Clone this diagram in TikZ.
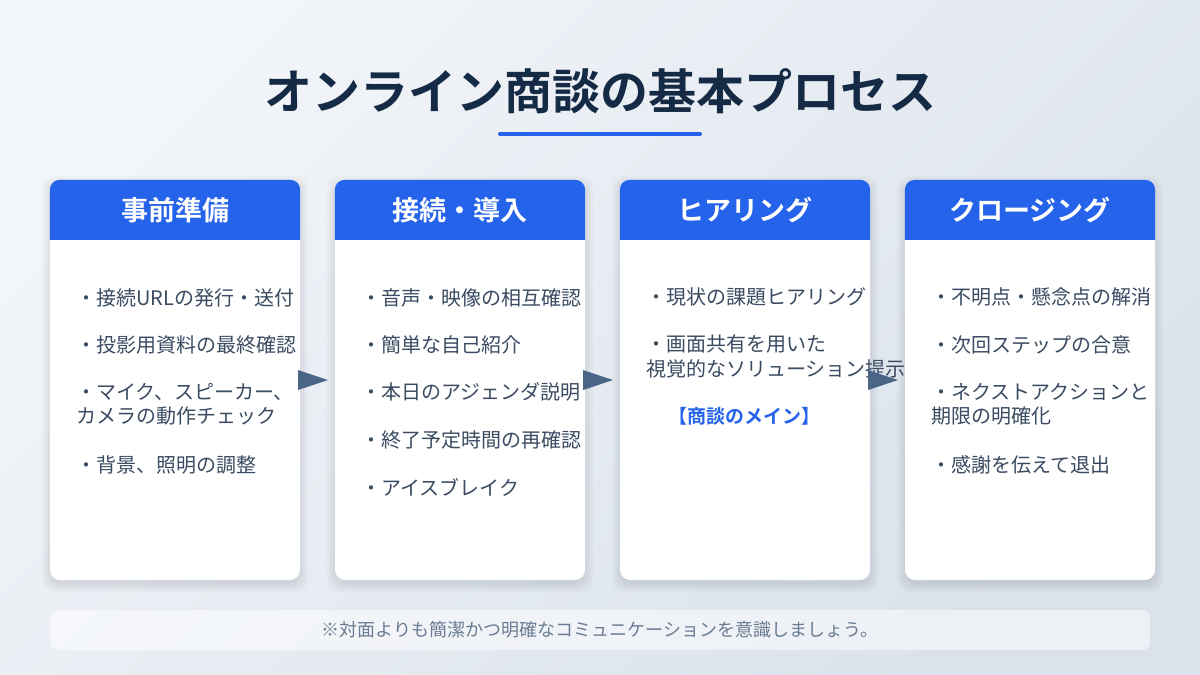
\documentclass[tikz,border=0pt]{standalone}
\usepackage{fontspec}
\setmainfont{Noto Sans CJK JP}[BoldFont=* Bold]
\usetikzlibrary{calc}
\definecolor{bgA}{HTML}{F2F5F9}
\definecolor{bgB}{HTML}{DBE2EB}
\definecolor{hdrblue}{HTML}{2563EB}
\definecolor{titlec}{HTML}{152A45}
\definecolor{bodyc}{HTML}{3A4B62}
\definecolor{arrowc}{HTML}{4A6686}
\definecolor{footc}{HTML}{6A7C93}
\tikzset{
  card/.style={fill=white, rounded corners=10pt, minimum width=250pt, minimum height=400pt, inner sep=0pt},
  hdrfill/.style={fill=hdrblue},
  hdrtext/.style={text=white, font=\fontsize{27}{32}\selectfont\bfseries, inner sep=0pt, anchor=center},
  body/.style={text=bodyc, font=\fontsize{20}{24}\selectfont, inner sep=0pt, anchor=base west},
  keytext/.style={text=hdrblue, font=\fontsize{19}{24}\selectfont\bfseries, inner sep=0pt, anchor=center},
  titletext/.style={text=titlec, font=\fontsize{48}{56}\selectfont\bfseries, inner sep=0pt, anchor=center},
  footbox/.style={fill=white, fill opacity=0.5, text opacity=1, rounded corners=8pt, minimum width=1100pt, minimum height=40pt, inner sep=0pt, text=footc, font=\fontsize{18}{21}\selectfont},
  shadowlayer/.style={fill=black, opacity=0.018, rounded corners=12pt}
}
\begin{document}
\begin{tikzpicture}[x=1pt,y=-1pt]
\useasboundingbox (0,0) rectangle (1200,675);
\shade[top color=bgA, bottom color=bgB, shading angle=45] (0,0) rectangle (1200,675);

% title
\node[titletext] (title) at (600,91) {オンライン商談の基本プロセス};
\coordinate (ul1) at (500,134);
\coordinate (ul2) at (700,134);
\draw[hdrblue, line width=4pt, line cap=round] (ul1) -- (ul2);

% cards
\foreach \i/\cx/\ttl in {1/175/事前準備, 2/460/接続・導入, 3/745/ヒアリング, 4/1030/クロージング} {
  \foreach \s in {0,2,4,6,8} {
    \fill[shadowlayer] (\cx-125-\s,180-\s+4) rectangle (\cx+125+\s,580+\s+4);
  }
  \node[card] (c\i) at (\cx,380) {};
  \fill[hdrfill] ($(c\i.north west)+(0,60)$) {[rounded corners=10pt] -- (c\i.north west) -- (c\i.north east)} -- ($(c\i.north east)+(0,60)$) -- cycle;
  \node[hdrtext] (h\i) at ($(c\i.north)+(0,30)$) {\ttl};
}

% card 1 text
\foreach \t/\y [count=\k] in {{・接続URLの発行・送付}/305, {・投影用資料の最終確認}/352, {・マイク、スピーカー、}/399, {カメラの動作チェック}/423, {・背景、照明の調整}/472}
  \node[body] (ta\k) at (76,\y) {\t};

% card 2 text
\foreach \t/\y [count=\k] in {{・音声・映像の相互確認}/305, {・簡単な自己紹介}/352, {・本日のアジェンダ説明}/399, {・終了予定時間の再確認}/447, {・アイスブレイク}/495}
  \node[body] (tb\k) at (361,\y) {\t};

% card 3 text
\foreach \t/\y [count=\k] in {{・現状の課題ヒアリング}/304, {・画面共有を用いた}/351, {視覚的なソリューション提示}/376}
  \node[body] (tc\k) at (646,\y) {\t};
\node[keytext] (key) at (744,416) {【商談のメイン】};

% card 4 text
\foreach \t/\y [count=\k] in {{・不明点・懸念点の解消}/304, {・次回ステップの合意}/352, {・ネクストアクションと}/399, {期限の明確化}/423, {・感謝を伝えて退出}/472}
  \node[body] (td\k) at (931,\y) {\t};

% arrows
\foreach \i/\j in {1/2, 2/3, 3/4} {
  \coordinate (m\i) at ($(c\i.east)!0.5!(c\j.west)$);
  \fill[arrowc] ($(m\i)+(-19.5,-10)$) -- ($(m\i)+(-19.5,10)$) -- ($(m\i)+(10.5,0)$) -- cycle;
}

% footer
\node[footbox] (foot) at (600,630) {※対面よりも簡潔かつ明確なコミュニケーションを意識しましょう。};
\end{tikzpicture}
\end{document}
